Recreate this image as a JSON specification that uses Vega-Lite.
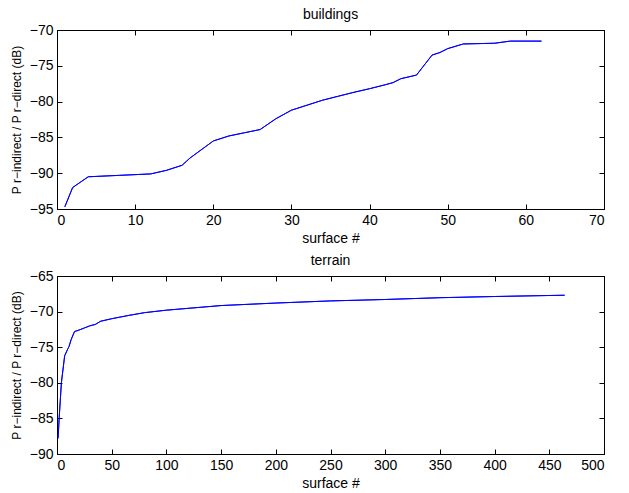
{
  "$schema": "https://vega.github.io/schema/vega-lite/v6.json",
  "padding": {"left": 9, "top": 7, "right": 4, "bottom": 4},
  "background": "white",
  "spacing": 7,
  "config": {
    "font": "Liberation Sans",
    "view": {"stroke": "black", "strokeWidth": 1},
    "axis": {
      "grid": false,
      "domain": true,
      "domainColor": "black",
      "tickColor": "black",
      "tickSize": -5,
      "labelPadding": 9,
      "labelFontSize": 14,
      "labelColor": "black",
      "titleFontSize": 14,
      "titleFontWeight": "normal",
      "titleColor": "black"
    },
    "title": {"fontSize": 14, "fontWeight": "normal", "color": "black", "frame": "group"}
  },
  "datasets": {
    "buildings": [
      {"x": 1, "y": -94.7}, {"x": 2, "y": -92.0}, {"x": 4, "y": -90.5}, {"x": 8, "y": -90.3},
      {"x": 12, "y": -90.1}, {"x": 14, "y": -89.6}, {"x": 16, "y": -88.9}, {"x": 17, "y": -87.9},
      {"x": 20, "y": -85.5}, {"x": 22, "y": -84.8}, {"x": 24, "y": -84.35}, {"x": 26, "y": -83.9},
      {"x": 28, "y": -82.4}, {"x": 30, "y": -81.2}, {"x": 32, "y": -80.5}, {"x": 34, "y": -79.8},
      {"x": 36, "y": -79.25}, {"x": 38, "y": -78.7}, {"x": 40, "y": -78.2}, {"x": 42, "y": -77.65},
      {"x": 43, "y": -77.35}, {"x": 44, "y": -76.8}, {"x": 46, "y": -76.3}, {"x": 47, "y": -74.9},
      {"x": 48, "y": -73.5}, {"x": 49, "y": -73.15}, {"x": 50, "y": -72.6}, {"x": 52, "y": -71.95},
      {"x": 56, "y": -71.85}, {"x": 58, "y": -71.55}, {"x": 62, "y": -71.55}
    ],
    "terrain": [
      {"x": 1, "y": -87.8}, {"x": 2, "y": -84.9}, {"x": 4, "y": -80.0}, {"x": 7, "y": -76.2},
      {"x": 10, "y": -75.2}, {"x": 11, "y": -74.9}, {"x": 13, "y": -73.9}, {"x": 16, "y": -72.8},
      {"x": 20, "y": -72.6}, {"x": 25, "y": -72.3}, {"x": 30, "y": -72.0}, {"x": 35, "y": -71.8},
      {"x": 40, "y": -71.35}, {"x": 50, "y": -71.0}, {"x": 65, "y": -70.55}, {"x": 80, "y": -70.15},
      {"x": 100, "y": -69.8}, {"x": 150, "y": -69.15}, {"x": 200, "y": -68.8}, {"x": 250, "y": -68.5},
      {"x": 300, "y": -68.3}, {"x": 350, "y": -68.05}, {"x": 400, "y": -67.88}, {"x": 464, "y": -67.7}
    ]
  },
  "vconcat": [
    {
      "width": 547,
      "height": 179,
      "title": {"text": "buildings", "offset": 1},
      "data": {"name": "buildings"},
      "layer": [
        {
          "mark": {"type": "line", "color": "#0000ff", "strokeWidth": 1},
          "encoding": {
            "x": {"field": "x", "type": "quantitative", "scale": {"domain": [0, 70], "nice": false, "zero": false},
                  "axis": {"values": [0, 10, 20, 30, 40, 50, 60, 70], "title": "surface #", "titlePadding": 4}},
            "y": {"field": "y", "type": "quantitative", "scale": {"domain": [-95, -70], "nice": false, "zero": false},
                  "axis": {"values": [-95, -90, -85, -80, -75, -70], "title": "P r−indirect / P r−direct (dB)", "titleFontSize": 12, "titlePadding": 6}}
          }
        },
        {
          "mark": {"type": "line", "color": "#0000ff", "strokeWidth": 1},
          "encoding": {
            "x": {"field": "x", "type": "quantitative",
                  "axis": {"orient": "top", "values": [0, 10, 20, 30, 40, 50, 60, 70], "labels": false, "title": null}},
            "y": {"field": "y", "type": "quantitative",
                  "axis": {"orient": "right", "values": [-95, -90, -85, -80, -75, -70], "labels": false, "title": null}}
          }
        }
      ],
      "resolve": {"axis": {"x": "independent", "y": "independent"}}
    },
    {
      "width": 547,
      "height": 178,
      "title": {"text": "terrain", "offset": 1},
      "data": {"name": "terrain"},
      "layer": [
        {
          "mark": {"type": "line", "color": "#0000ff", "strokeWidth": 1},
          "encoding": {
            "x": {"field": "x", "type": "quantitative", "scale": {"domain": [0, 500], "nice": false, "zero": false},
                  "axis": {"values": [0, 50, 100, 150, 200, 250, 300, 350, 400, 450, 500], "title": "surface #", "titlePadding": 4}},
            "y": {"field": "y", "type": "quantitative", "scale": {"domain": [-90, -65], "nice": false, "zero": false},
                  "axis": {"values": [-90, -85, -80, -75, -70, -65], "title": "P r−indirect / P r−direct (dB)", "titleFontSize": 12, "titlePadding": 6}}
          }
        },
        {
          "mark": {"type": "line", "color": "#0000ff", "strokeWidth": 1},
          "encoding": {
            "x": {"field": "x", "type": "quantitative",
                  "axis": {"orient": "top", "values": [0, 50, 100, 150, 200, 250, 300, 350, 400, 450, 500], "labels": false, "title": null}},
            "y": {"field": "y", "type": "quantitative",
                  "axis": {"orient": "right", "values": [-90, -85, -80, -75, -70, -65], "labels": false, "title": null}}
          }
        }
      ],
      "resolve": {"axis": {"x": "independent", "y": "independent"}}
    }
  ]
}
